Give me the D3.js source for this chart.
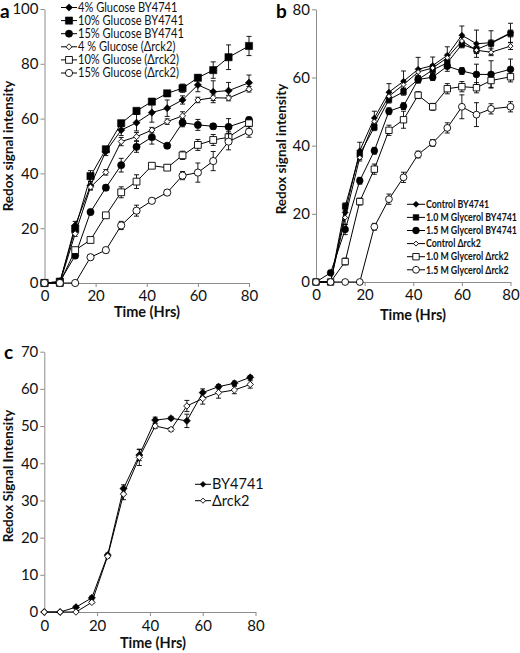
<!DOCTYPE html>
<html><head><meta charset="utf-8">
<script src="https://cdn.jsdelivr.net/npm/d3@7"></script>
<style>body{margin:0;background:#fff} text{font-family:Lato,'Liberation Sans',sans-serif}</style>
</head><body><svg id="c" width="520" height="653"></svg>
<script>
// ---------- data ----------
const hoursAB = [0,6,12,18,24,30,36,42,48,54,60,66,72,80];
const hoursC  = [0,6,12,18,24,30,36,42,48,54,60,66,72,78];
const xTicks = [0,20,40,60,80];
const yTicksA = [0,20,40,60,80,100];
const yTicksB = [0,20,40,60,80];
const yTicksC = [0,10,20,30,40,50,60,70];

const labelsA = ["4% Glucose BY4741","10% Glucose BY4741","15% Glucose BY4741","4 % Glucose (Δrck2)","10% Glucose (Δrck2)","15% Glucose (Δrck2)"];
const glu4BY   = [0,0,21,35.5,48,55.8,58.5,62.2,63.8,66.8,72.3,69.8,70.2,73.1];
const glu10BY  = [0,0.5,19.7,39,48.8,58.3,62.8,66.2,69.2,71.1,74.9,77.7,82.4,86.5];
const glu15BY  = [0,0.5,10,25.9,34.8,43,49.7,53.2,50.1,58.5,57.7,57.2,57,59.5];
const glu4D    = [0,0,18,35,40.4,51.6,53.4,55.8,58.9,61,66.8,67.6,67.5,70.7];
const glu10D   = [0,0,12,15.7,24.7,33.1,37,42.8,42.1,46.6,50.4,52.2,53.2,58.3];
const glu15D   = [0,0,0,9.4,12,21,26.4,30,33,39.2,40.3,44.5,51.6,55.2];
const glu4BYErr  = [0,0,1.5,1.5,1.5,2,3,3.5,3,1.5,2.5,4,3,2.8];
const glu10BYErr = [0,0,1.5,2,1,1,1,1,1,1.5,1,3,4.5,3.5];
const glu15BYErr = [0,0,1,1,1,2.5,2,2.5,1,1.5,2,1,3,1];
const glu4DErr   = [0,0,1,1,1,1.5,1.5,1,1,1.5,1,1,1,1];
const glu10DErr  = [0,0,1,1,1,2,2.5,1,1,1.5,2,2,2,2];
const glu15DErr  = [0,0,0,1,1,1.5,2,1,1,1.5,3.5,3.5,3,2];

const labelsB = ["Control BY4741","1.0 M Glycerol BY4741","1.5 M Glycerol BY4741","Control Δrck2","1.0 M Glycerol Δrck2","1.5 M Glycerol Δrck2"];
const ctrlBY   = [0,0,20.4,38.5,48.1,55.7,58.9,62.4,63.5,66.5,72.4,69.9,70.2,73.1];
const gly10BY  = [0,0,22.2,37.5,45.4,53.5,55.8,59.4,62.2,64.3,69.7,68.2,70,72.9];
const gly15BY  = [0,2.7,15.4,29.7,38.5,50.1,51.6,59.4,60.1,63.3,61.9,60.9,60.9,62.4];
const ctrlD    = [0,0,18.9,36.5,47.1,54.5,57.9,61.6,62.8,65.8,70.7,68,67.4,69.2];
const gly10D   = [0,0,6,23.6,33.1,44.5,47.6,54.8,51.4,56.7,57.3,57,59.1,60.2];
const gly15D   = [0,0,0,0,16.2,24.3,30.7,37.4,40.8,45.2,51.4,49.1,50.8,51.4];
const ctrlBYErr  = [0,0,1.5,2.5,2,2.5,3,3.5,2.5,2.5,2.7,4,3.5,2.8];
const gly10BYErr = [0,0,1,1,1,1,1,1,1,1,1,1,1,1];
const gly15BYErr = [0,0.5,1.5,1,1,1,1,1,1,1.5,1,3,4,3];
const ctrlDErr   = [0,0,2,1,1,1,1,1,1,1,1,1,1,1];
const gly10DErr  = [0,0,1,1,1.5,1.5,2.5,1,1,1.5,1.5,1.5,2,1.5];
const gly15DErr  = [0,0,0,0,1,1.5,1.5,1,1,1.5,3.5,3.5,1.5,1.5];

const labelsC = ["BY4741","Δrck2"];
const cBY   = [0,0,1.3,3.8,15.3,33.2,42.2,51.6,52.1,51.4,59,60.6,61.5,63.1];
const cD    = [0,0,0,2.6,15,31.7,41.6,50,49.1,55.4,57.4,59,59.7,61.2];
const cBYErr = [0,0,0.3,0.5,0.5,1,1.5,0.8,0.4,1.8,1,0.6,0.6,0.5];
const cDErr  = [0,0,0,0.3,0.5,1.5,2.2,0.6,0.5,1.5,1.5,1.5,1,1];

// ---------- drawing ----------
const svg = d3.select("#c");
const AX = "#8c8c8c";

function markerPath(shape, r){
  if(shape==="diamond") return `M0,${-r}L${r},0L0,${r}L${-r},0Z`;
  if(shape==="square") return `M${-r},${-r}H${r}V${r}H${-r}Z`;
  return d3.arc()({innerRadius:0,outerRadius:r,startAngle:0,endAngle:2*Math.PI});
}
function drawMarker(g, x, y, s, scale){
  const r = s.r*(scale||1);
  g.append("path").attr("d", markerPath(s.shape, r))
    .attr("transform",`translate(${x},${y})`)
    .attr("fill", s.filled ? "#000" : "#fff")
    .attr("stroke","#000").attr("stroke-width", s.filled?0.6:0.9);
}

function panel(cfg){
  const g = svg.append("g");
  const x = d3.scaleLinear().domain([0,80]).range(cfg.xr);
  const y = d3.scaleLinear().domain([0,cfg.ymax]).range(cfg.yr);
  const ya = g.append("g").attr("transform",`translate(${cfg.xr[0]},0)`)
    .call(d3.axisLeft(y).tickValues(cfg.yTicks).tickSize(4).tickSizeOuter(0).tickPadding(2));
  const xa = g.append("g").attr("transform",`translate(0,${cfg.yr[0]})`)
    .call(d3.axisBottom(x).tickValues(xTicks).tickSize(4).tickSizeOuter(0).tickPadding(cfg.xpad));
  [ya,xa].forEach(a=>{
    a.select(".domain").attr("stroke",AX);
    a.selectAll(".tick line").attr("stroke",AX);
    a.selectAll("text").attr("fill","#111").style("font-size","15px").style("font-family","Lato,'Liberation Sans',sans-serif");
  });
  const line = d3.line().x((d,i)=>x(cfg.times[i])).y(d=>y(d));
  cfg.series.forEach(s=>{
    g.append("path").datum(s.vals).attr("d",line).attr("fill","none").attr("stroke","#000").attr("stroke-width",1);
  });
  cfg.series.forEach(s=>{
    const eg = g.append("g").attr("stroke","#000").attr("stroke-width",0.9);
    s.vals.forEach((v,i)=>{
      const e = s.errs[i]; if(!e) return;
      const cx = x(cfg.times[i]), y0 = y(v-e), y1 = y(v+e);
      eg.append("line").attr("x1",cx).attr("x2",cx).attr("y1",y0).attr("y2",y1);
      eg.append("line").attr("x1",cx-2.5).attr("x2",cx+2.5).attr("y1",y0).attr("y2",y0);
      eg.append("line").attr("x1",cx-2.5).attr("x2",cx+2.5).attr("y1",y1).attr("y2",y1);
    });
    const mg = g.append("g");
    s.vals.forEach((v,i)=> drawMarker(mg, x(cfg.times[i]), y(v), s));
  });
  const L = cfg.legend;
  cfg.series.forEach((s,i)=>{
    const ly = L.y0 + i*L.dy;
    g.append("line").attr("x1",L.x0).attr("x2",L.x1).attr("y1",ly).attr("y2",ly).attr("stroke","#000").attr("stroke-width",1);
    drawMarker(g,(L.x0+L.x1)/2,ly,s,L.ms);
    g.append("text").attr("transform",`translate(${L.x1+1},${ly}) scale(${L.cond||1},1)`)
      .attr("dy","0.35em")
      .attr("fill","#111").style("font-size",L.fs+"px").style("font-weight",L.fw)
      .text(cfg.labels[i]);
  });
  g.append("text").attr("transform",`translate(${cfg.ylab.x},${cfg.ylab.y}) rotate(-90)`)
    .attr("text-anchor","middle").attr("dy","0.35em").style("font-weight","bold").style("font-size","13.5px")
    .attr("fill","#111").text(cfg.ylab.t);
  g.append("text").attr("x",cfg.xlab.x).attr("y",cfg.xlab.y).attr("text-anchor","middle").attr("dy","0.35em")
    .style("font-weight","bold").style("font-size","14.5px").attr("fill","#111").text("Time (Hrs)");
  g.append("text").attr("x",cfg.letter.x).attr("y",cfg.letter.y).attr("dy","0.35em")
    .style("font-weight","bold").style("font-size","19px").attr("fill","#000").text(cfg.letter.t);
}

panel({
  times: hoursAB, ymax:100, xr:[44.5,249], yr:[283,9], yTicks:yTicksA, xpad:3,
  labels: labelsA,
  series:[
    {vals:glu4BY, errs:glu4BYErr, shape:"diamond", filled:true, r:3.6},
    {vals:glu10BY, errs:glu10BYErr, shape:"square", filled:true, r:3.6},
    {vals:glu15BY, errs:glu15BYErr, shape:"circle", filled:true, r:3.6},
    {vals:glu4D, errs:glu4DErr, shape:"diamond", filled:false, r:3},
    {vals:glu10D, errs:glu10DErr, shape:"square", filled:false, r:3.4},
    {vals:glu15D, errs:glu15DErr, shape:"circle", filled:false, r:3.6}
  ],
  legend:{x0:61,x1:77,y0:7.5,dy:13.1,fs:12.6,fw:"normal",ms:1,cond:0.88},
  ylab:{x:8,y:146,t:"Redox signal intensity"},
  xlab:{x:147,y:312},
  letter:{x:0,y:11,t:"a"}
});
panel({
  times: hoursAB, ymax:80, xr:[316,510.5], yr:[282,9.3], yTicks:yTicksB, xpad:3,
  labels: labelsB,
  series:[
    {vals:ctrlBY, errs:ctrlBYErr, shape:"diamond", filled:true, r:3},
    {vals:gly10BY, errs:gly10BYErr, shape:"square", filled:true, r:2.8},
    {vals:gly15BY, errs:gly15BYErr, shape:"circle", filled:true, r:3.4},
    {vals:ctrlD, errs:ctrlDErr, shape:"diamond", filled:false, r:2.5},
    {vals:gly10D, errs:gly10DErr, shape:"square", filled:false, r:3.2},
    {vals:gly15D, errs:gly15DErr, shape:"circle", filled:false, r:3.4}
  ],
  legend:{x0:407,x1:425,y0:204.3,dy:13.1,fs:10.6,fw:"bold",ms:1,cond:0.83},
  ylab:{x:281,y:149,t:"Redox signal intensity"},
  xlab:{x:413,y:315},
  letter:{x:276,y:11,t:"b"}
});
panel({
  times: hoursC, ymax:70, xr:[44.3,255.5], yr:[612,351.7], yTicks:yTicksC, xpad:4.5,
  labels: labelsC,
  series:[
    {vals:cBY, errs:cBYErr, shape:"diamond", filled:true, r:3.6},
    {vals:cD, errs:cDErr, shape:"diamond", filled:false, r:3.2}
  ],
  legend:{x0:195,x1:211,y0:484.3,dy:16.4,fs:14.5,fw:"normal",ms:0.8},
  ylab:{x:8,y:476,t:"Redox Signal Intensity"},
  xlab:{x:153,y:643},
  letter:{x:4,y:352,t:"c"}
});
</script></body></html>
